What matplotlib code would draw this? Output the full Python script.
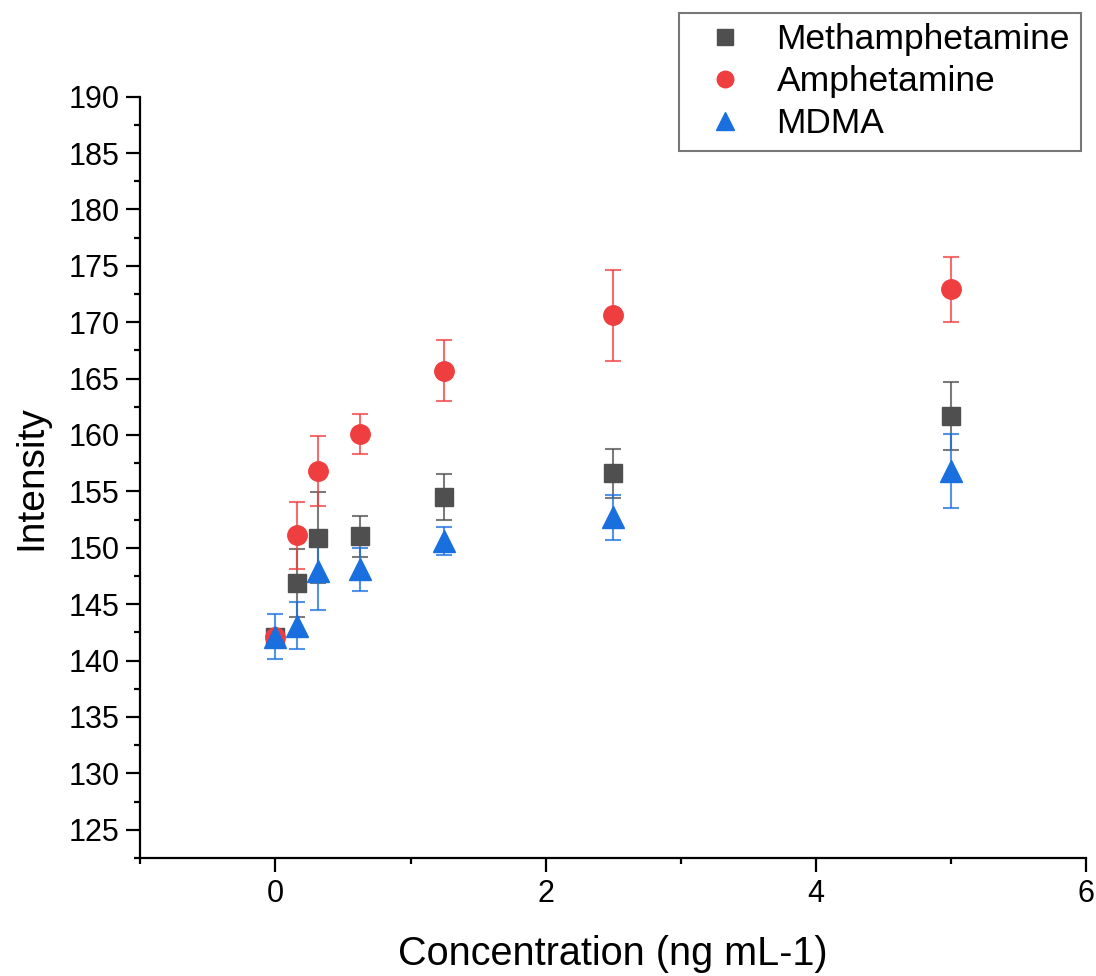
import numpy as np
import matplotlib
matplotlib.use('Agg')
import matplotlib.pyplot as plt
from matplotlib.ticker import MultipleLocator
from matplotlib.lines import Line2D

plt.rcParams['font.family'] = ['Liberation Sans', 'DejaVu Sans']

conc = [0, 0.15625, 0.3125, 0.625, 1.25, 2.5, 5]

meth = [142.1, 146.9, 150.9, 151.0, 154.5, 156.6, 161.7]
meth_err = [0.4, 3.0, 4.0, 1.8, 2.0, 2.2, 3.0]

amph = [142.1, 151.1, 156.8, 160.1, 165.7, 170.6, 172.9]
amph_err = [0.4, 3.0, 3.1, 1.8, 2.7, 4.0, 2.9]

mdma = [142.1, 143.1, 147.9, 148.1, 150.6, 152.7, 156.8]
mdma_err = [2.0, 2.1, 3.4, 1.9, 1.2, 2.0, 3.3]

fig = plt.figure(figsize=(10.96, 9.76), dpi=100)
ax = fig.add_axes([0.128, 0.121, 0.863, 0.780])

series = [
    ('Methamphetamine', meth, meth_err, 's', '#4f4f4f', 13),
    ('Amphetamine', amph, amph_err, 'o', '#ef3e3f', 14),
    ('MDMA', mdma, mdma_err, '^', '#1a6fdf', 16),
]
handles = []
for name, y, err, mk, col, ms in series:
    c = ax.errorbar(conc, y, yerr=err, fmt=mk, color=col, ms=ms, mec=col,
                    ecolor=col, elinewidth=1.5, capsize=5.5, capthick=1.5)
    # fade the error bars a little like Origin does
    for art in c.lines[1] + c.lines[2]:
        art.set_alpha(0.75)
    handles.append(Line2D([], [], ls='none', marker=mk, color=col, ms=ms * 0.85,
                          label=name))

ax.set_xlim(-1, 6)
ax.set_ylim(122.5, 190)
ax.xaxis.set_major_locator(MultipleLocator(2))
ax.xaxis.set_minor_locator(MultipleLocator(1))
ax.yaxis.set_minor_locator(MultipleLocator(2.5))
ax.set_yticks(np.arange(125, 191, 5))

for s in ['top', 'right']:
    ax.spines[s].set_visible(False)
for s in ['left', 'bottom']:
    ax.spines[s].set_linewidth(1.6)

ax.tick_params(which='major', direction='out', length=10, width=1.6,
               labelsize=22, pad=5)
ax.tick_params(which='minor', direction='out', length=4.5, width=1.6)

ax.set_xlabel('Concentration (ng mL-1)', fontsize=28.5, labelpad=19)
ax.set_ylabel('Intensity', fontsize=28, labelpad=14)

leg = fig.legend(handles=handles, loc='upper right',
                 bbox_to_anchor=(0.986, 0.987),
                 fontsize=25.5, frameon=True, fancybox=False,
                 handletextpad=0.45, borderpad=0.3, labelspacing=0.25,
                 handlelength=2.0, borderaxespad=0)
leg.get_frame().set_edgecolor('#555555')
leg.get_frame().set_linewidth(1.5)

fig.savefig('out.png', dpi=100)
